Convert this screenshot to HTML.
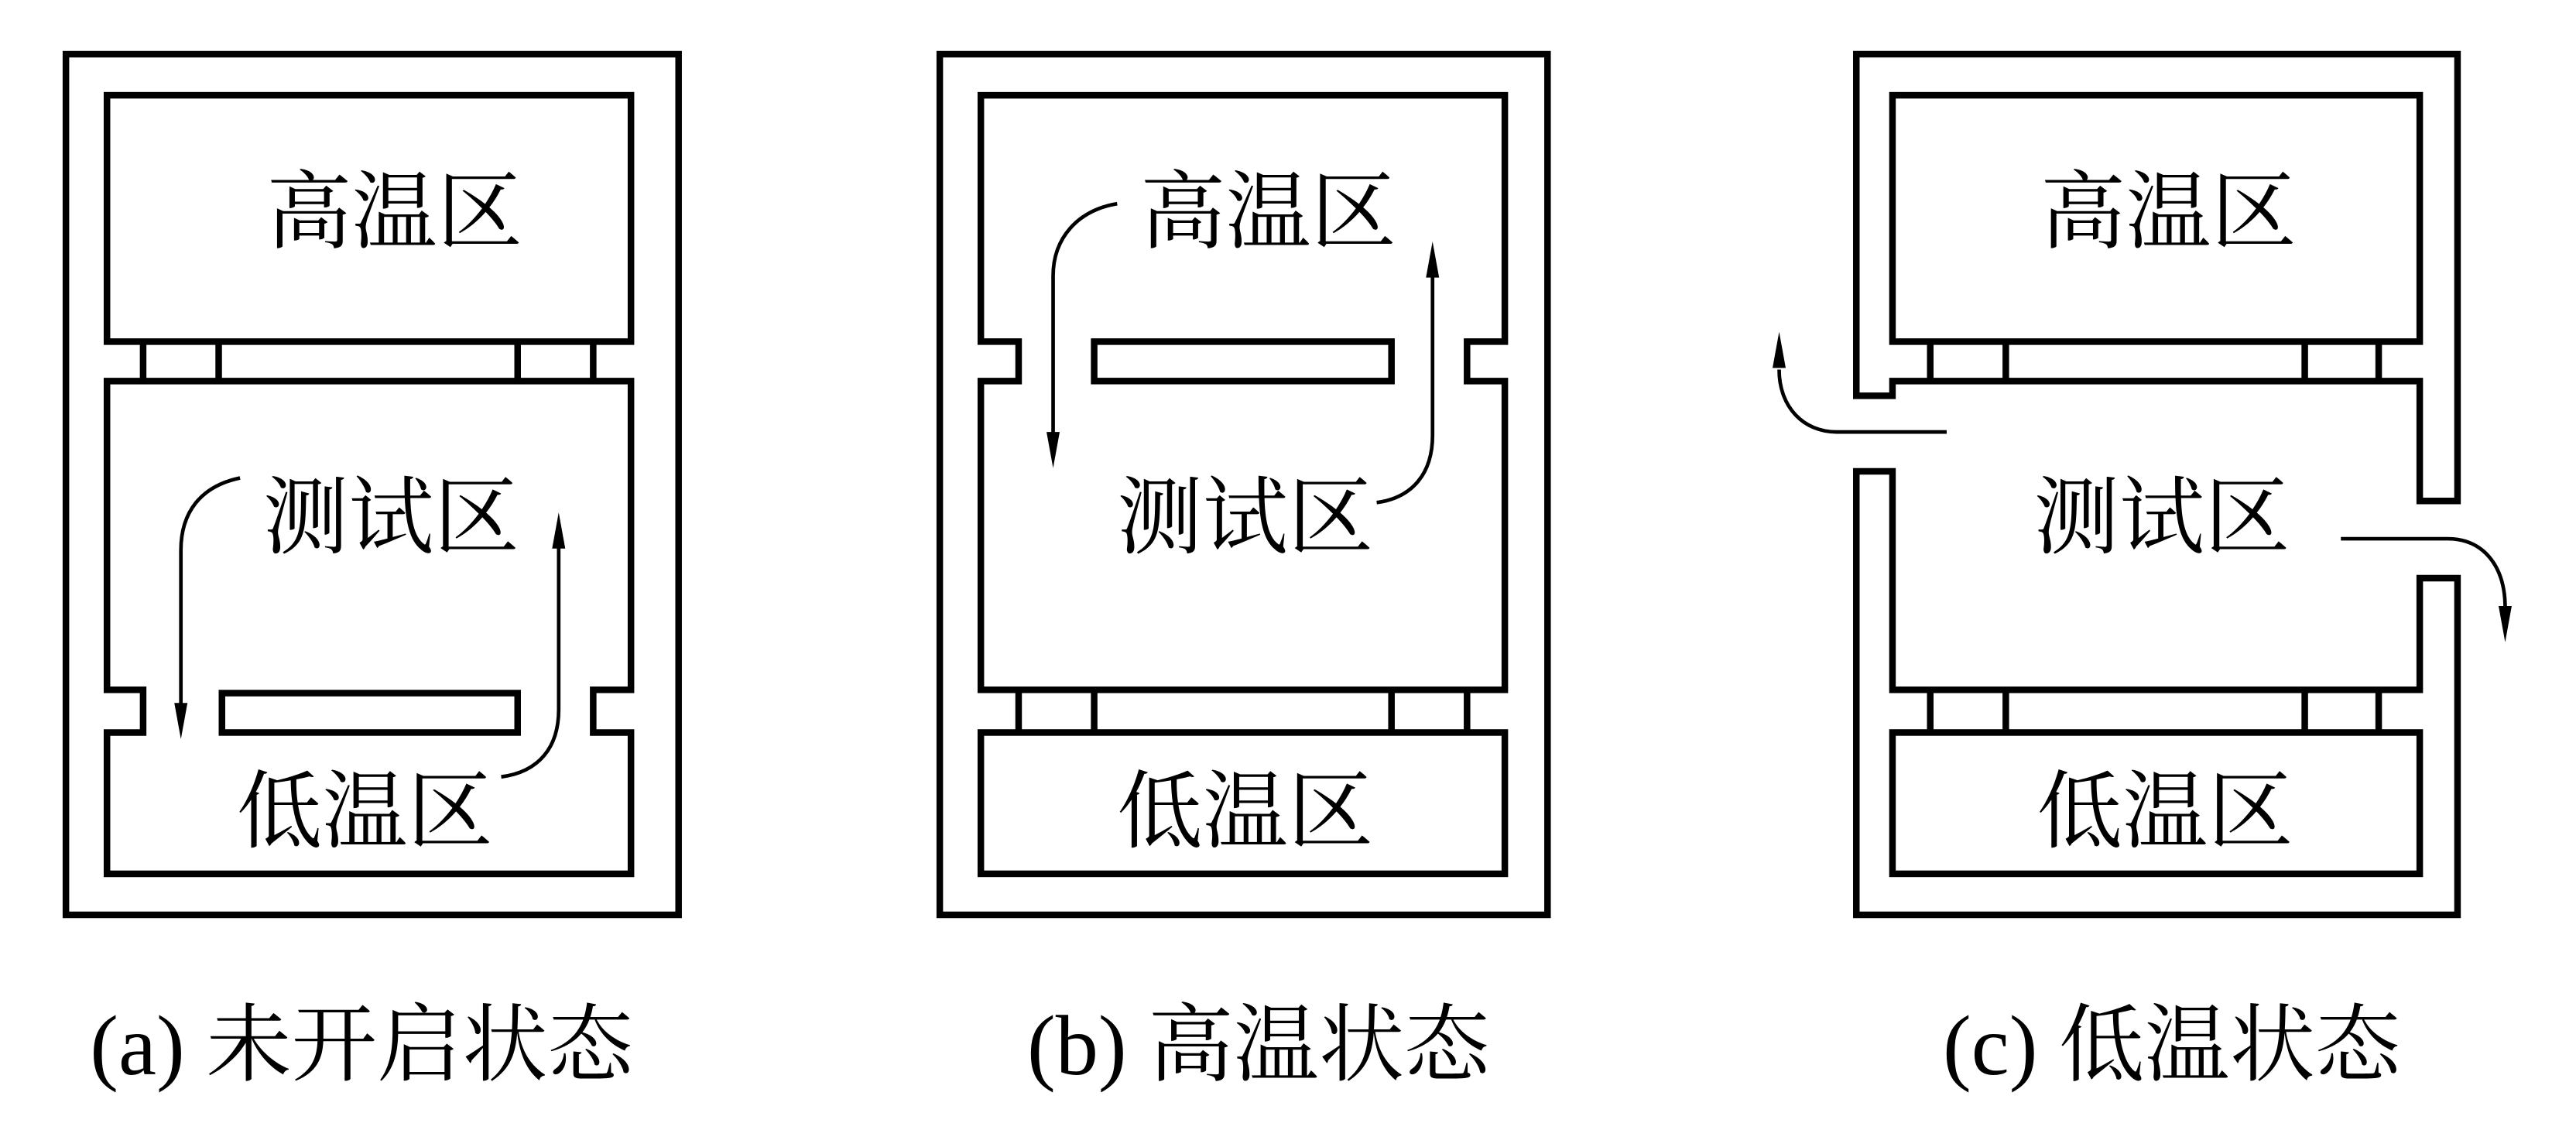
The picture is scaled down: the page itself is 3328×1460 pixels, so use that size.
<!DOCTYPE html>
<html><head><meta charset="utf-8"><style>
html,body{margin:0;padding:0;background:#fff;}
svg{display:block;}
text{font-family:"Liberation Serif","Noto Serif CJK SC","Noto Sans CJK SC",serif;fill:#000;}
</style></head><body>
<svg width="3328" height="1460" viewBox="0 0 1568 688" xmlns="http://www.w3.org/2000/svg">
<g fill="none" stroke="#000" stroke-width="4" stroke-linejoin="miter">
<!-- (a) -->
<rect x="40" y="33" width="373" height="524"/>
<rect x="65" y="58" width="319" height="150"/>
<path d="M65,232 H384 V420 H361 V446 H384 V532 H65 V446 H87 V420 H65 Z"/>
<path d="M87,208V232 M133,208V232 M315,208V232 M361,208V232"/>
<rect x="135" y="422" width="180" height="24"/>
<path d="M146,291 C122,296 110,312 110,335 V430" stroke-width="2.2"/>
<path d="M305,473 C328,470 340,455 340,432 V332" stroke-width="2.2"/>
<!-- (b) -->
<rect x="572" y="33" width="370" height="524"/>
<path d="M597,58 H916 V208 H893 V232 H916 V420 H597 V232 H620 V208 H597 Z"/>
<rect x="597" y="446" width="319" height="86"/>
<path d="M620,420V446 M666,420V446 M847,420V446 M893,420V446"/>
<rect x="666" y="208" width="181" height="24"/>
<path d="M680,124 C656,128 641,145 641,168 V265" stroke-width="2.2"/>
<path d="M838,306 C860,303 872,288 872,265 V167" stroke-width="2.2"/>
<!-- (c) -->
<path d="M1152,232 V241 H1130 V33 H1496 V305 H1473 V232 Z"/>
<rect x="1152" y="58" width="321" height="150"/>
<path d="M1175,208V232 M1221,208V232 M1403,208V232 M1448,208V232"/>
<path d="M1152,287 H1130 V557 H1496 V352 H1473 V420 H1152 Z"/>
<rect x="1152" y="446" width="321" height="86"/>
<path d="M1175,420V446 M1221,420V446 M1403,420V446 M1448,420V446"/>
<path d="M1185,263 H1118 C1098,263 1083,248 1083,225" stroke-width="2.2"/>
<path d="M1425,328 H1490 C1512,328 1525,345 1525,370" stroke-width="2.2"/>
</g>
<g fill="#000">
<polygon points="106,428 114,428 110,450"/>
<polygon points="336,334 344,334 340,312"/>
<polygon points="637,263 645,263 641,285"/>
<polygon points="868,169 876,169 872,147"/>
<polygon points="1079,224 1087,224 1083,202"/>
<polygon points="1521,369 1529,369 1525,391"/>
</g>
<g font-size="52" text-anchor="middle">
<text x="240" y="147">高温区</text>
<text x="238" y="333">测试区</text>
<text x="222" y="512">低温区</text>
<text x="772" y="147">高温区</text>
<text x="758" y="333">测试区</text>
<text x="758" y="512">低温区</text>
<text x="1320" y="147">高温区</text>
<text x="1316" y="333">测试区</text>
<text x="1318" y="512">低温区</text>
</g>
<g font-size="52" text-anchor="middle">
<text x="220" y="654">(a) 未开启状态</text>
<text x="766" y="654">(b) 高温状态</text>
<text x="1322" y="654">(c) 低温状态</text>
</g>
</svg>
</body></html>
